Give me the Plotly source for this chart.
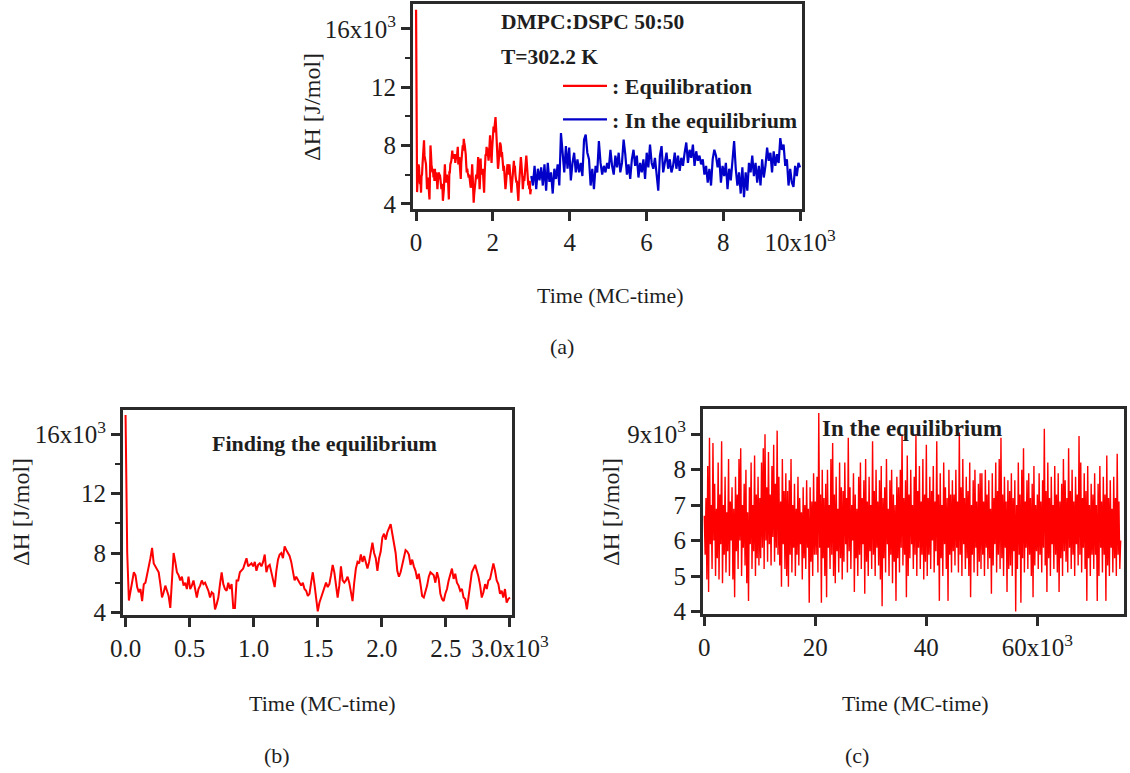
import numpy as np
import plotly.graph_objects as go

# ---------------------------------------------------------------------------
# Enthalpy traces, ΔH in units of 10^3 J/mol
# ---------------------------------------------------------------------------

# Equilibration run, MC-time 0 .. 3000
dh_equilibration = [
    17.3, 8.0, 4.8, 5.5,
    6.15, 6.7, 6.5, 5.7, 5.35, 5.57, 4.76, 5.9, 6.0, 6.7,
    7.1, 7.65, 8.35, 7.3, 7.1, 6.95, 6.7, 5.9, 5.0, 5.35,
    5.8, 5.45, 5.1, 4.3, 5.9, 8.0, 7.4, 6.7, 6.5, 6.15,
    6.4, 5.8, 6.0, 5.57, 6.4, 5.57, 5.8, 6.15, 5.57, 5.0,
    5.57, 5.8, 6.15, 5.9, 6.0, 5.7, 5.45, 5.0, 5.35, 5.25,
    4.2, 4.55, 5.0, 5.9, 6.7, 5.9, 5.57, 5.45, 6.0, 5.57,
    5.9, 4.3, 4.3, 6.15, 6.15, 6.7, 6.8, 6.95, 7.3, 7.65,
    7.1, 7.2, 7.3, 7.1, 7.4, 6.8, 7.2, 7.3, 7.1, 7.4,
    7.9, 6.7, 7.1, 7.2, 6.7, 6.15, 5.7, 6.8, 7.55, 7.9,
    8.0, 7.65, 8.45, 8.2, 8.0, 7.8, 7.4, 6.7, 6.15, 6.4,
    6.15, 6.0,
    5.8, 6.0, 5.57, 5.45, 5.1, 5.25, 6.0, 6.7, 5.9, 4.76,
    4.07, 4.65, 5.0, 5.45, 5.8, 6.0, 5.7, 5.9, 6.5, 7.2,
    6.7, 6.0, 5.0, 5.8, 7.1, 6.15, 6.0, 6.15, 6.4, 6.0,
    5.45, 4.76, 6.0, 6.95, 7.4, 7.3, 7.9, 7.4, 7.8, 7.3,
    6.95, 7.4, 8.1, 8.7, 8.0, 7.65, 6.8, 7.65, 8.1, 9.05,
    9.3, 8.9, 9.4, 9.75, 9.95, 9.3, 8.6, 8.0, 6.8, 6.4,
    6.7, 7.2, 7.55, 8.2, 8.1, 7.9, 7.2, 7.55, 7.1, 6.8,
    6.25, 6.6, 5.9, 5.1, 5.0, 5.35, 5.8, 6.4, 6.7, 6.6,
    6.5, 6.0, 6.7, 6.25, 5.25, 4.9, 4.76, 5.25, 5.57, 6.15,
    6.5, 6.95, 6.25, 6.6, 6.0, 5.8, 5.45, 5.57, 5.0, 4.9,
    4.2, 5.1, 5.8, 6.7, 6.95, 7.2, 6.8, 6.4, 5.8, 5.0,
    5.35, 5.9, 5.57, 6.15, 6.25, 6.7, 7.3, 6.8, 6.15, 5.9,
    5.25, 5.45, 5.0, 5.57, 4.65, 4.9, 5.0,
]
t_equilibration_end = 3000

# Continuation in equilibrium, MC-time 3000 .. 10000
dh_continued = [
    5.9, 5.25, 6.6, 5.0, 6.4, 5.6, 6.5, 5.25, 6.7, 4.9,
    6.8, 5.5, 6.15, 4.7, 6.4, 5.7, 6.7, 5.25, 8.85, 7.3,
    6.15, 7.95, 6.4, 7.85, 5.6, 6.8, 7.5, 6.15, 7.05, 6.15,
    6.8, 5.9, 8.4, 8.75, 7.5, 7.05, 5.25, 6.4, 5.0, 6.6,
    6.15, 8.3, 6.8, 6.0, 6.6, 6.15, 6.8, 6.4, 7.7, 6.6,
    6.0, 7.3, 6.5, 7.5, 6.15, 6.8, 8.4, 7.4, 6.0, 6.7,
    5.7, 7.05, 7.7, 6.6, 7.3, 5.8, 6.8, 6.15, 7.05, 5.7,
    7.5, 6.5, 8.05, 6.8, 6.4, 7.15, 5.8, 4.9, 7.3, 7.95,
    6.15, 6.8, 7.5, 6.4, 7.05, 6.15,
    6.6, 7.5, 6.4, 7.3, 6.25, 7.15, 6.6, 7.5, 8.2, 6.8,
    7.7, 7.15, 8.05, 6.6, 7.6, 6.95, 7.3, 6.7, 7.05, 6.0,
    6.6, 5.45, 6.4, 5.25, 7.05, 7.7, 7.3, 6.5, 7.15, 5.45,
    6.6, 5.9, 6.8, 5.0, 6.4, 5.6, 7.05, 8.3, 6.4, 5.25,
    6.15, 4.7, 6.5, 4.45, 6.15, 4.9, 6.8, 6.15, 7.3, 5.9,
    6.8, 5.45, 6.6, 5.25, 7.05, 5.8, 6.6, 7.85, 6.95, 7.5,
    6.15, 7.6, 6.6, 7.4, 6.8, 8.5, 7.7, 8.05, 6.6, 7.05,
    5.25, 6.4, 5.45, 5.15, 6.6, 5.9, 6.8, 6.5,
]
t_continued = (3000, 10000)

# Long production run in equilibrium, MC-time 0 .. 75000
# (successive local maxima / minima of the fluctuating signal, one row per 5000 steps)
dh_production = [
    6.7, 5.6, 7.2, 4.9, 8.1, 4.55, 8.9, 5.9, 7.0, 5.2, 8.75, 6.0, 7.6, 5.0, 6.9, 5.5,
    8.2, 4.9, 7.3, 5.9, 8.8, 4.8, 7.0, 5.6, 7.8, 5.1, 6.8, 5.7, 8.3, 5.0, 7.1, 6.0,
    7.5, 4.9, 6.9, 4.4, 7.8, 5.7, 7.3, 5.2, 8.3, 6.0, 8.6, 5.0, 7.0, 5.8, 7.6, 5.3,
    8.0, 4.8, 6.8, 4.3, 7.5, 5.9, 8.2, 5.2, 7.0, 5.7, 8.4, 5.0, 7.3, 5.5, 7.8, 5.3,
    7.2, 5.5, 8.2, 5.8, 8.6, 5.2, 9.0, 6.0, 7.5, 5.4, 8.5, 5.9, 7.3, 5.3, 8.1, 6.1,
    8.7, 5.4, 7.6, 5.8, 9.1, 5.6, 7.8, 5.3, 7.1, 4.7, 8.3, 5.9, 7.4, 5.2, 7.9, 5.0,
    7.4, 4.7, 7.7, 5.6, 8.3, 5.1, 7.0, 5.8, 7.6, 5.0, 6.9, 5.6, 7.8, 5.3, 7.2, 5.9,
    6.8, 4.9, 7.5, 5.5, 7.0, 5.2, 7.7, 5.8, 6.9, 4.25, 7.5, 5.4, 7.1, 5.0, 7.9, 5.6,
    7.1, 5.6, 7.8, 5.1, 9.6, 5.8, 7.3, 4.25, 8.0, 5.5, 7.2, 5.0, 7.6, 4.4, 8.0, 5.8,
    7.0, 5.2, 8.3, 5.6, 8.75, 5.0, 7.3, 4.8, 7.8, 5.7, 6.9, 5.1, 8.2, 5.5, 7.5, 4.9,
    7.4, 5.4, 8.2, 5.9, 7.2, 5.1, 8.9, 5.7, 7.5, 5.2, 7.0, 6.0, 7.9, 4.55, 7.3, 5.5,
    6.9, 5.0, 7.8, 5.6, 8.2, 5.2, 7.2, 5.9, 7.7, 4.5, 8.3, 5.4, 7.1, 5.0, 7.8, 5.7,
    7.0, 5.2, 8.8, 5.6, 7.4, 5.0, 8.0, 5.8, 7.1, 5.3, 7.7, 4.9, 8.1, 4.15, 7.2, 5.5,
    7.5, 5.1, 8.3, 5.9, 6.9, 5.0, 7.7, 5.6, 8.0, 4.8, 7.3, 5.4, 7.0, 4.3, 7.8, 5.5,
    7.5, 5.1, 8.0, 5.8, 9.0, 5.3, 7.2, 5.6, 7.7, 4.4, 8.4, 5.0, 7.3, 5.5, 8.0, 5.9,
    7.0, 5.2, 7.8, 5.6, 9.0, 5.0, 7.4, 5.8, 8.1, 5.2, 7.1, 5.6, 8.3, 4.9, 7.3, 5.4,
    8.7, 5.0, 7.2, 5.6, 7.8, 5.2, 7.4, 6.0, 8.1, 5.1, 7.1, 5.7, 8.8, 5.3, 7.3, 4.3,
    7.9, 5.5, 7.0, 5.0, 8.2, 5.9, 7.5, 5.2, 7.2, 4.3, 8.0, 5.6, 7.3, 5.1, 7.7, 5.7,
    7.3, 5.3, 8.0, 5.8, 7.1, 5.1, 9.05, 5.6, 7.5, 5.0, 8.3, 5.9, 7.2, 5.2, 7.8, 5.5,
    7.4, 5.0, 8.2, 4.4, 7.0, 5.6, 7.7, 5.1, 8.0, 5.8, 7.1, 5.0, 7.6, 5.4, 7.9, 5.2,
    7.9, 5.6, 7.1, 5.0, 8.0, 5.8, 7.3, 5.2, 7.7, 5.5, 6.9, 4.5, 7.9, 5.3, 7.2, 5.9,
    8.2, 5.1, 7.4, 5.6, 8.3, 5.2, 8.9, 5.5, 7.3, 5.0, 7.8, 5.8, 7.1, 4.55, 7.7, 5.2,
    7.4, 5.3, 7.9, 5.0, 7.2, 5.7, 7.7, 4.0, 7.0, 5.2, 8.2, 5.6, 7.3, 4.25, 8.0, 5.5,
    8.6, 5.1, 7.1, 5.8, 7.7, 5.2, 7.9, 5.6, 7.2, 5.0, 7.6, 4.4, 8.1, 5.3, 7.0, 5.7,
    7.3, 5.2, 7.9, 5.6, 7.1, 5.1, 7.7, 5.8, 9.15, 5.3, 7.4, 4.55, 8.2, 5.5, 7.2, 5.0,
    7.8, 5.9, 7.0, 5.2, 8.1, 5.6, 7.3, 5.1, 7.9, 4.55, 7.1, 5.5, 7.6, 5.0, 8.3, 5.7,
    7.7, 5.4, 7.2, 5.1, 8.6, 5.8, 7.4, 5.2, 8.0, 5.6, 7.1, 5.0, 7.8, 5.9, 7.3, 5.3,
    8.95, 5.6, 8.2, 5.1, 7.2, 5.8, 7.9, 5.2, 7.4, 4.3, 8.1, 5.5, 7.0, 5.0, 7.6, 5.6,
    7.3, 5.2, 7.9, 5.6, 7.0, 4.3, 7.6, 5.0, 8.1, 5.8, 7.1, 5.1, 7.8, 5.6, 7.3, 4.3,
    8.4, 5.3, 7.2, 5.0, 7.7, 5.8, 6.9, 5.1, 7.8, 5.5, 7.2, 5.0, 8.45, 5.6, 7.1, 5.2,
    6.0,
]
t_production_end = 75000

# Tick labels
ytick_a = ["4", "8", "12", "16x10<sup>3</sup>"]
xtick_a = ["0", "2", "4", "6", "8", "10x10<sup>3</sup>"]
xtick_b = ["0.0", "0.5", "1.0", "1.5", "2.0", "2.5", "3.0x10<sup>3</sup>"]
ytick_c = ["4", "5", "6", "7", "8", "9x10<sup>3</sup>"]
xtick_c = ["0", "20", "40", "60x10<sup>3</sup>"]

# ---------------------------------------------------------------------------
KJ = 1000.0
t_eq = np.linspace(0, t_equilibration_end, len(dh_equilibration))
t_co = np.linspace(t_continued[0], t_continued[1], len(dh_continued))
t_pr = np.linspace(0, t_production_end, len(dh_production))
y_eq = np.array(dh_equilibration) * KJ
y_co = np.array(dh_continued) * KJ
y_pr = np.array(dh_production) * KJ

RED = "#ff0000"
BLUE = "#0000c8"
INK = "#1e1e1e"
AXIS = "#2a2a2a"
SERIF = "Liberation Serif, Times New Roman, Times, serif"

W, H = 1130, 773


def xd(p0, p1):
    return [p0 / W, p1 / W]


def yd(p0, p1):
    return [1 - p1 / H, 1 - p0 / H]


fig = go.Figure()

fig.add_trace(go.Scatter(x=t_eq, y=y_eq, mode="lines", xaxis="x", yaxis="y",
                         line=dict(color=RED, width=2.2), name="<b>: Equilibration</b>",
                         legendgroup="g1"))
fig.add_trace(go.Scatter(x=t_co, y=y_co, mode="lines", xaxis="x", yaxis="y",
                         line=dict(color=BLUE, width=2.2), name="<b>: In the equilibrium</b>",
                         legendgroup="g2"))
fig.add_trace(go.Scatter(x=t_eq, y=y_eq, mode="lines", xaxis="x2", yaxis="y2",
                         line=dict(color=RED, width=2), showlegend=False))
fig.add_trace(go.Scatter(x=t_pr, y=y_pr, mode="lines", xaxis="x3", yaxis="y3",
                         line=dict(color=RED, width=1.4), showlegend=False))

axis_style = dict(showline=True, linewidth=3, linecolor=AXIS, mirror=True,
                  ticks="outside", ticklen=9, tickwidth=2.5, tickcolor=AXIS,
                  showgrid=False, zeroline=False, tickmode="array", automargin=False,
                  tickfont=dict(family=SERIF, size=25, color=INK))
minor_y = dict(tickvals=[6 * KJ, 10 * KJ, 14 * KJ], ticks="outside", ticklen=5,
               tickwidth=2, tickcolor=AXIS, showgrid=False)

fig.update_layout(
    width=W, height=H, margin=dict(l=0, r=0, t=0, b=0, autoexpand=False),
    paper_bgcolor="white", plot_bgcolor="white",
    xaxis=dict(axis_style, domain=xd(413, 802), range=[-80, 10050], anchor="y",
               tickvals=[0, 2000, 4000, 6000, 8000, 10000], ticktext=xtick_a),
    yaxis=dict(axis_style, domain=yd(4, 209), range=[3.64 * KJ, 17.7 * KJ], anchor="x",
               tickvals=[4 * KJ, 8 * KJ, 12 * KJ, 16 * KJ], ticktext=ytick_a, minor=minor_y),
    xaxis2=dict(axis_style, domain=xd(123, 512), range=[-20, 3016], anchor="y2",
                tickvals=[0, 500, 1000, 1500, 2000, 2500, 3000], ticktext=xtick_b),
    yaxis2=dict(axis_style, domain=yd(410, 615), range=[3.82 * KJ, 17.64 * KJ], anchor="x2",
                tickvals=[4 * KJ, 8 * KJ, 12 * KJ, 16 * KJ], ticktext=ytick_a, minor=minor_y),
    xaxis3=dict(axis_style, domain=xd(703, 1124), range=[-230, 75600], anchor="y3",
                tickvals=[0, 20000, 40000, 60000], ticktext=xtick_c),
    yaxis3=dict(axis_style, domain=yd(409, 614), range=[3.93 * KJ, 9.71 * KJ], anchor="x3",
                tickvals=[4 * KJ, 5 * KJ, 6 * KJ, 7 * KJ, 8 * KJ, 9 * KJ], ticktext=ytick_c),
    legend=dict(x=558 / W, y=1 - 65 / H, xanchor="left", yanchor="top",
                bgcolor="rgba(0,0,0,0)", borderwidth=0, itemwidth=44,
                tracegroupgap=2, font=dict(family=SERIF, size=22, color=INK)),
)


def label(text, px, py, size, angle=0, xanchor="center", bold=False):
    fig.add_annotation(text=f"<b>{text}</b>" if bold else text,
                       x=px / W, y=1 - py / H, xref="paper", yref="paper",
                       xanchor=xanchor, yanchor="middle", showarrow=False,
                       textangle=angle, font=dict(family=SERIF, size=size, color=INK))


# panel (a)
label("ΔH [J/mol]", 312, 107, 24, angle=-90)
label("Time (MC-time)", 610, 295, 22)
label("(a)", 562, 346, 22)
label("DMPC:DSPC 50:50", 499, 22, 21.5, xanchor="left", bold=True)
label("T=302.2 K", 499, 57, 21.5, xanchor="left", bold=True)
# panel (b)
label("ΔH [J/mol]", 21, 512, 24, angle=-90)
label("Time (MC-time)", 322, 703, 22)
label("(b)", 277, 755, 22)
label("Finding the equilibrium", 324, 443, 22, bold=True)
# panel (c)
label("ΔH [J/mol]", 611, 512, 24, angle=-90)
label("Time (MC-time)", 915, 703, 22)
label("(c)", 857, 755, 22)
label("In the equilibrium", 912, 428, 23, bold=True)

fig.write_html("out.html")
